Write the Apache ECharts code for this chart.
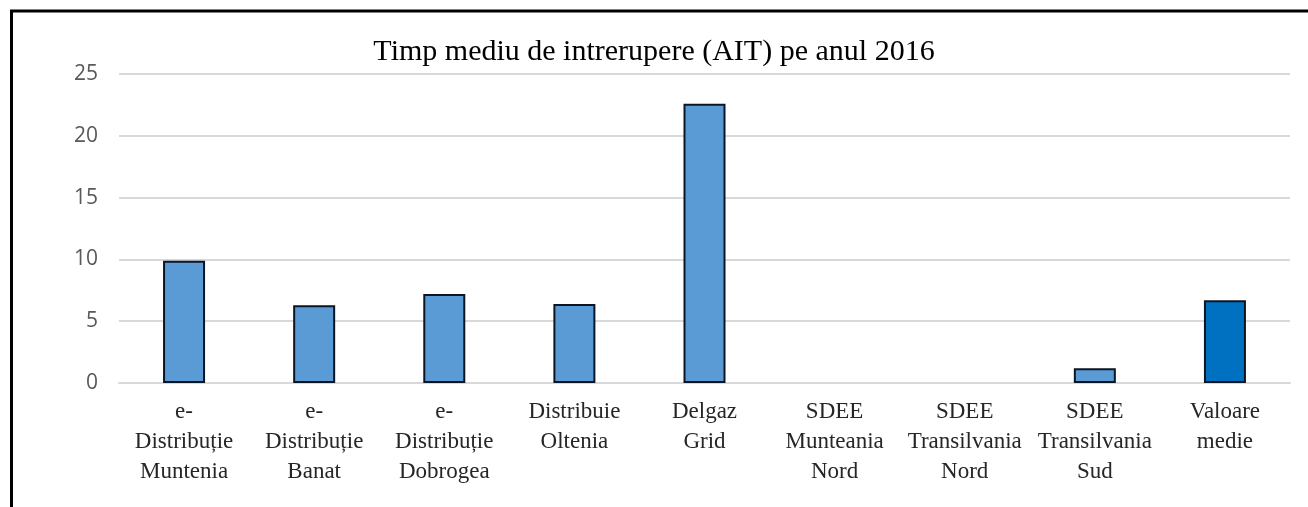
<html>
	<head>
		<meta charset="utf-8">
		<script type="text/javascript" src="https://cdn.jsdelivr.net/npm/echarts@6/dist/echarts.min.js"></script>
	</head>
	<body style="margin: 0; padding: 0; background: #fff;">
		<div id="myChart" style="height: 507px; width: 1308px; margin: 0; padding: 0;"></div>
		<script type="text/javascript">
			var categories = [
				'e-\nDistribuție\nMuntenia',
				'e-\nDistribuție\nBanat',
				'e-\nDistribuție\nDobrogea',
				'Distribuie\nOltenia',
				'Delgaz\nGrid',
				'SDEE\nMunteania\nNord',
				'SDEE\nTransilvania\nNord',
				'SDEE\nTransilvania\nSud',
				'Valoare\nmedie'
			];
			var aitValues = [9.9, 6.3, 7.2, 6.4, 22.6, 0, 0, 1.2, 6.7];
			var barColors = ['#5B9BD5', '#5B9BD5', '#5B9BD5', '#5B9BD5', '#5B9BD5', '#5B9BD5', '#5B9BD5', '#5B9BD5', '#0070C0'];

			var serif = '"Liberation Serif", "DejaVu Serif", serif';
			var datas = [];
			for (var i = 0; i < aitValues.length; i++) {
				// zero bars: no outline, like the original
				datas.push({value: aitValues[i], itemStyle: {color: barColors[i], borderWidth: aitValues[i] === 0 ? 0 : 2}});
			}

			var option = {
				animation: false,
				title: {
					text: 'Timp mediu de intrerupere (AIT) pe anul 2016',
					left: 'center',
					top: 32,
					textStyle: {fontFamily: serif, fontSize: 30, fontWeight: 'normal', color: '#000'}
				},
				graphic: [{
					type: 'rect',
					shape: {x: 11.5, y: 11, width: 1400, height: 600},
					style: {fill: 'none', stroke: '#000', lineWidth: 3},
					silent: true
				}],
				grid: {left: 119, right: 18, top: 74, bottom: 124},
				xAxis: {
					type: 'category',
					data: categories,
					axisTick: {show: false},
					axisLine: {lineStyle: {color: '#d9d9d9', width: 2}},
					axisLabel: {
						interval: 0,
						margin: 14,
						fontFamily: serif,
						fontSize: 23,
						lineHeight: 30,
						color: '#262626'
					}
				},
				yAxis: {
					type: 'value',
					min: 0,
					max: 25,
					interval: 5,
					axisLine: {show: false},
					axisTick: {show: false},
					splitLine: {lineStyle: {color: '#d9d9d9', width: 2}},
					axisLabel: {
						margin: 21,
						fontFamily: '"Open Sans", "Noto Sans", sans-serif',
						fontSize: 21,
						color: '#595959'
					}
				},
				series: [{
					type: 'bar',
					barWidth: 42,
					data: datas,
					itemStyle: {borderColor: '#0b1624'}
				}]
			};
			echarts.init(document.getElementById('myChart')).setOption(option, false);
		</script>
	</body>
</html>
